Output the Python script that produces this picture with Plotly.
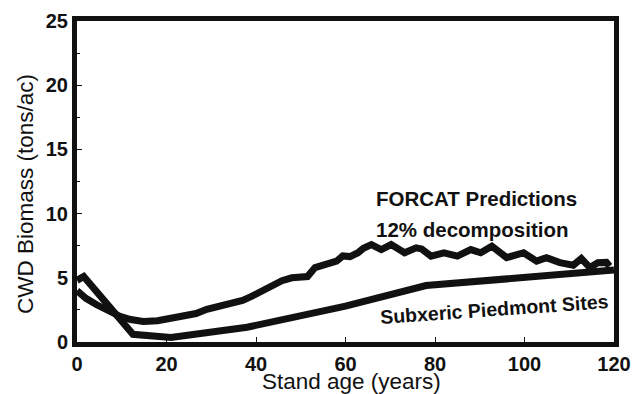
import plotly.graph_objects as go

# FORCAT model predictions (12% decomposition rate)
forcat_age = [0, 2, 4.4, 7, 9.6, 12, 14.8, 18, 20.7, 24, 26.6, 29, 31, 34, 37, 39,
              41.4, 43, 45.8, 48, 50.3, 51.5, 53.2, 56.2, 58, 59.4, 61, 62.8, 64,
              65.8, 68, 70.2, 73.2, 75.8, 77, 79.1, 82, 85, 88, 90.2, 92.7, 96,
              99.8, 102.7, 104.9, 107.9, 110.9, 112.7, 114.6, 116.4, 118.3, 119]
forcat_cwd = [4.0, 3.4, 2.9, 2.4, 2.0, 1.75, 1.6, 1.65, 1.8, 2.0, 2.22, 2.55, 2.73,
              2.95, 3.24, 3.55, 4.0, 4.2, 4.77, 5.0, 5.1, 5.1, 5.8, 6.18, 6.3, 6.7,
              6.65, 6.95, 7.3, 7.59, 7.2, 7.59, 6.95, 7.33, 7.25, 6.69, 6.95, 6.69,
              7.2, 6.95, 7.46, 6.57, 6.95, 6.3, 6.57, 6.18, 5.98, 6.5, 5.8, 6.18,
              6.2, 5.9]

# Field curve for subxeric Piedmont sites
subxeric_age = [0, 1.5, 12.5, 21, 38, 60, 78, 120]
subxeric_cwd = [4.8, 5.1, 0.6, 0.35, 1.15, 2.8, 4.4, 5.6]

x_ticks = [0, 20, 40, 60, 80, 100, 120]
y_ticks = [0, 5, 10, 15, 20, 25]

INK = "#111111"
FONT = "Liberation Sans, Arial, sans-serif"

fig = go.Figure()
fig.add_trace(go.Scatter(x=subxeric_age, y=subxeric_cwd, mode="lines",
                         line=dict(color=INK, width=7), showlegend=False))
fig.add_trace(go.Scatter(x=forcat_age, y=forcat_cwd, mode="lines",
                         line=dict(color=INK, width=7), showlegend=False))

ann_font = dict(family=FONT, size=20.5, color=INK, weight="bold")
fig.add_annotation(x=66.3, y=11.15, xref="x", yref="y", xanchor="left",
                   text="FORCAT Predictions", showarrow=False, font=ann_font)
fig.add_annotation(x=66.3, y=8.77, xref="x", yref="y", xanchor="left",
                   text="12% decomposition", showarrow=False, font=ann_font)
fig.add_annotation(x=93.4, y=2.55, xref="x", yref="y", textangle=-4,
                   text="Subxeric Piedmont Sites", showarrow=False,
                   font=dict(family=FONT, size=19.5, color=INK, weight="bold"))

# axis titles placed as paper-anchored text
title_font = dict(family=FONT, size=22.5, color=INK)
fig.add_annotation(x=0.512, y=-0.122, xref="paper", yref="paper",
                   xanchor="center", yanchor="middle",
                   text="Stand age (years)", showarrow=False, font=title_font)
fig.add_annotation(x=-0.097, y=0.461, xref="paper", yref="paper", textangle=-90,
                   xanchor="center", yanchor="middle",
                   text="CWD Biomass (tons/ac)", showarrow=False, font=title_font)

axis_common = dict(showline=True, linecolor=INK, linewidth=5, mirror=True,
                   showgrid=False, zeroline=False, ticks="inside", ticklen=5,
                   tickwidth=1, tickcolor=INK, automargin=False,
                   tickfont=dict(family=FONT, size=20, color=INK, weight="bold"))

fig.update_xaxes(range=[0, 120], tickvals=x_ticks, **axis_common)
fig.update_yaxes(range=[0, 25], tickvals=y_ticks,
                 minor=dict(dtick=2.5, ticks="inside", ticklen=3, tickcolor=INK),
                 **axis_common)

fig.update_layout(width=635, height=394, margin=dict(l=77, r=21, t=21, b=52),
                  plot_bgcolor="white", paper_bgcolor="white")

fig.write_html("out.html")
